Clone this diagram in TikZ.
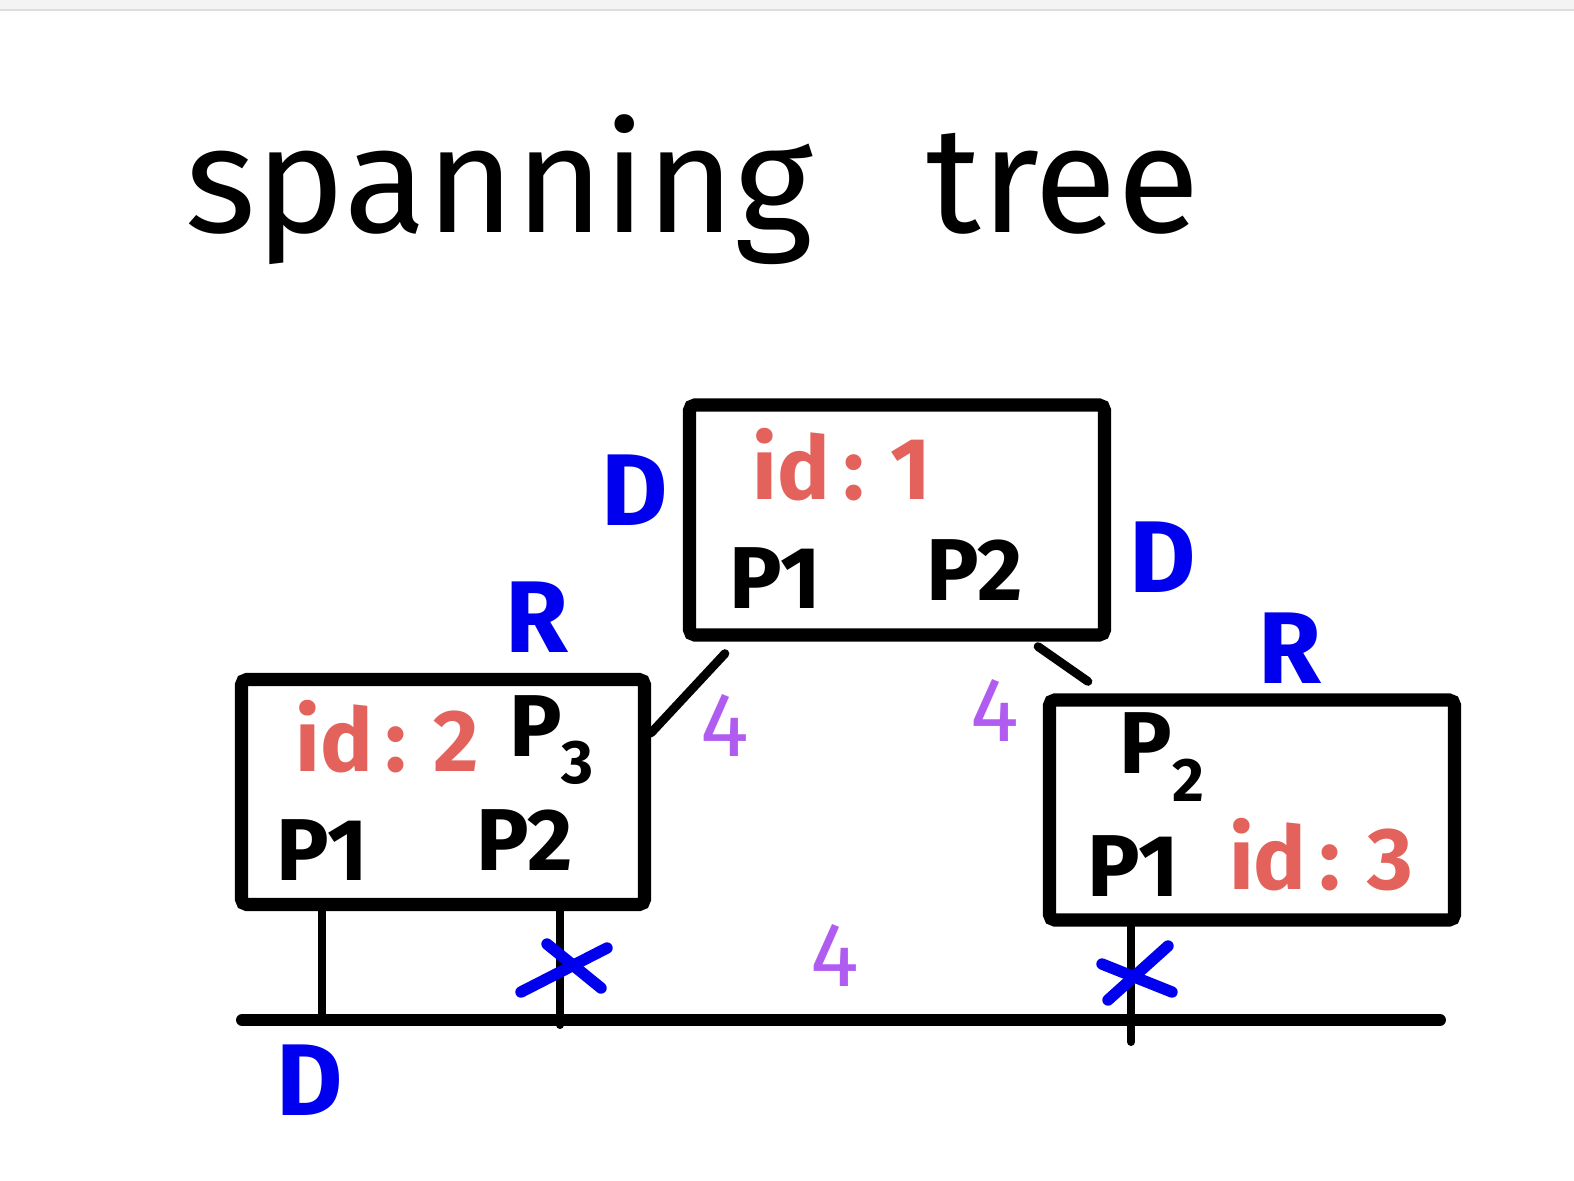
\documentclass[tikz,border=0pt]{standalone}
\usepackage{fontspec}
\setmainfont{Fira Sans}
\usetikzlibrary{positioning}
\definecolor{idred}{HTML}{E3625B}
\definecolor{penblue}{HTML}{0000EE}
\definecolor{costpurple}{HTML}{B05CF0}
\definecolor{barfill}{HTML}{F4F4F4}
\definecolor{barline}{HTML}{DDDDDD}
\newcommand{\bridgeid}[1]{id\hspace{0.15em}:\hspace{0.3em}#1}

\begin{document}
\begin{tikzpicture}[x=0.02cm, y=-0.02cm,
    bridge/.style={draw, line width=7.5pt, rounded corners=3pt, inner sep=0pt},
    idtxt/.style={text=idred, font=\fontsize{50}{50}\selectfont\bfseries, inner sep=0pt},
    porttxt/.style={text=black, font=\fontsize{50}{50}\selectfont\bfseries, inner sep=0pt},
    roletxt/.style={text=penblue, font=\fontsize{58}{58}\selectfont\bfseries, inner sep=0pt},
    costtxt/.style={text=costpurple, font=\fontsize{52}{52}\selectfont, inner sep=0pt},
    link/.style={line width=5pt, line cap=round},
    lan/.style={line width=6.8pt, line cap=round},
    drop/.style={line width=4.5pt, line cap=round},
    blocked/.style={penblue, line width=6.5pt, line cap=round}]
  \useasboundingbox (0,0) rectangle (1574,1180);
  \fill[barfill] (0,0) rectangle (1574,10);
  \draw[barline, line width=1pt] (0,10) -- (1574,10);

  \node[anchor=base west, font=\fontsize{86}{86}\selectfont, inner sep=0pt] (title) at (185,232) {spanning\hspace{0.75em}tree};

  \node[bridge, minimum width=8.3cm, minimum height=4.6cm] (b1) at (897,520) {};
  \node[bridge, minimum width=8.06cm, minimum height=4.5cm] (b2) at (443,792) {};
  \node[bridge, minimum width=8.1cm, minimum height=4.4cm] (b3) at (1252,810) {};

  \node[idtxt] (b1id) at (842,465) {\bridgeid{1}};
  \node[porttxt] (b1p1) at (775,578) {P1};
  \node[porttxt] (b1p2) at (975,570) {P2};

  \node[idtxt] (b2id) at (387,737) {\bridgeid{2}};
  \node[porttxt] (b2p3) at (552,740) {P\textsubscript{3}};
  \node[porttxt] (b2p1) at (322,850) {P1};
  \node[porttxt] (b2p2) at (525,840) {P2};

  \node[porttxt] (b3p2) at (1162,757) {P\textsubscript{2}};
  \node[porttxt] (b3p1) at (1133,866) {P1};
  \node[idtxt] (b3id) at (1321,855) {\bridgeid{3}};

  \node[roletxt] (b1d1) at (635,490) {D};
  \node[roletxt] (b1d2) at (1163,557) {D};
  \node[roletxt] (b2r) at (537,617) {R};
  \node[roletxt] (b3r) at (1290,648) {R};
  \node[roletxt] (land) at (310,1080) {D};

  \node[costtxt] (c12) at (725,725) {4};
  \node[costtxt] (c13) at (995,710) {4};
  \node[costtxt] (clan) at (835,955) {4};

  \draw[link] ([shift={(42,12)}]b1.south west) -- ([shift={(0,60)}]b2.north east);
  \draw[link] ([shift={(-73,5)}]b1.south east) -- ([shift={(45,-12)}]b3.north west);

  \coordinate (busL) at (242,1020);
  \coordinate (busR) at (1440,1020);
  \coordinate (tap1) at (322,1022);
  \coordinate (tap2) at (560,1025);
  \coordinate (tap3) at (1131,1042);
  \draw[lan] (busL) -- (busR);
  \draw[drop] (b2.south -| tap1) -- (tap1);
  \draw[drop] (b2.south -| tap2) -- (tap2);
  \draw[drop] (b3.south -| tap3) -- (tap3);

  \coordinate (x2) at (565,968);
  \coordinate (x3) at (1138,970);
  \draw[blocked] ([shift={(-44,24)}]x2) -- ([shift={(42,-20)}]x2);
  \draw[blocked] ([shift={(-18,-24)}]x2) -- ([shift={(36,20)}]x2);
  \draw[blocked] ([shift={(-30,30)}]x3) -- ([shift={(30,-24)}]x3);
  \draw[blocked] ([shift={(-36,-6)}]x3) -- ([shift={(34,22)}]x3);
\end{tikzpicture}
\end{document}
